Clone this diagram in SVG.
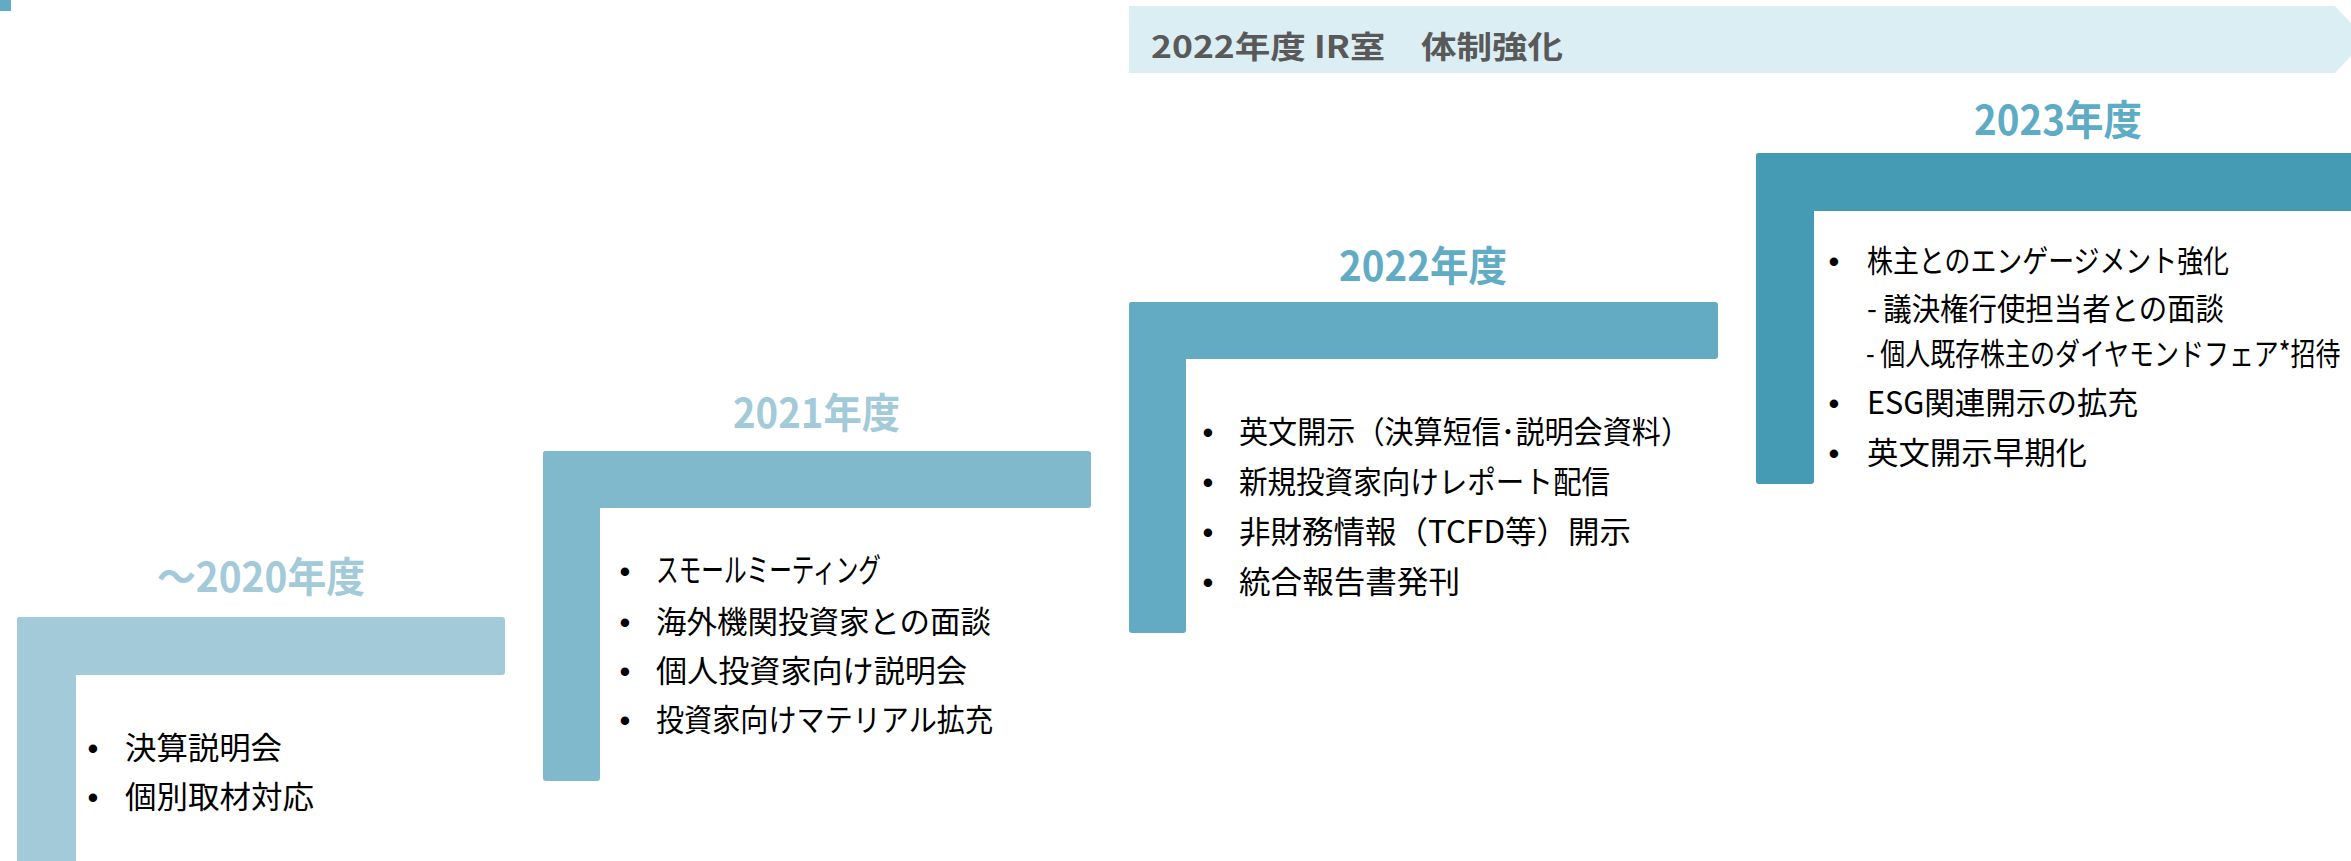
<svg xmlns="http://www.w3.org/2000/svg" width="2351" height="861" viewBox="0 0 2351 861">
<style>
.body{font-family:"Noto Sans CJK JP","Noto Sans",sans-serif;font-size:31px;fill:#000;}
.dot{font-family:"Liberation Sans",Arial,sans-serif;font-size:31px;fill:#000;text-anchor:middle;}
.title{font-family:"Noto Sans CJK JP","Noto Sans",sans-serif;font-size:41px;font-weight:700;}
.banner{font-family:"Noto Sans CJK JP","Noto Sans",sans-serif;font-size:31px;font-weight:700;fill:#595959;}
</style>
<rect x="0" y="0" width="11" height="11" fill="#62abc4"/>
<g id="banner">
<polygon points="1129,6 2335,6 2366,39.5 2335,73 1129,73" fill="#dbeef4"/>
<text class="banner" x="1151" y="58" textLength="412" lengthAdjust="spacingAndGlyphs">2022年度 IR室　体制強化</text>
</g>
<g id="step2020">
<rect x="17" y="617" width="488" height="58" rx="3" fill="#a2cad9"/>
<rect x="17" y="617" width="59" height="260" rx="3" fill="#a2cad9"/>
<text class="title" x="157" y="592" fill="#a2cad9" textLength="208" lengthAdjust="spacingAndGlyphs">～2020年度</text>
<text class="dot" x="93" y="759">•</text><text class="body" x="125" y="759" textLength="157" lengthAdjust="spacingAndGlyphs">決算説明会</text>
<text class="dot" x="93" y="808">•</text><text class="body" x="125" y="808" textLength="189" lengthAdjust="spacingAndGlyphs">個別取材対応</text>
</g>
<g id="step2021">
<rect x="543" y="451" width="548" height="57" rx="3" fill="#81b9cc"/>
<rect x="543" y="451" width="57" height="330" rx="3" fill="#81b9cc"/>
<text class="title" x="733" y="428" fill="#a2cad9" textLength="167" lengthAdjust="spacingAndGlyphs">2021年度</text>
<text class="dot" x="625" y="582">•</text><text class="body" x="656" y="582" style="font-size:33px" textLength="225" lengthAdjust="spacingAndGlyphs">スモールミーティング</text>
<text class="dot" x="625" y="633">•</text><text class="body" x="656" y="633" textLength="335" lengthAdjust="spacingAndGlyphs">海外機関投資家との面談</text>
<text class="dot" x="625" y="682">•</text><text class="body" x="656" y="682" textLength="311" lengthAdjust="spacingAndGlyphs">個人投資家向け説明会</text>
<text class="dot" x="625" y="731">•</text><text class="body" x="656" y="731" textLength="337" lengthAdjust="spacingAndGlyphs">投資家向けマテリアル拡充</text>
</g>
<g id="step2022">
<rect x="1129" y="302" width="589" height="57" rx="3" fill="#62abc3"/>
<rect x="1129" y="302" width="57" height="331" rx="3" fill="#62abc3"/>
<text class="title" x="1339" y="281" fill="#62abc4" textLength="168" lengthAdjust="spacingAndGlyphs">2022年度</text>
<text class="dot" x="1208" y="443">•</text><text class="body" x="1239" y="443" textLength="451" lengthAdjust="spacingAndGlyphs">英文開示（決算短信･説明会資料）</text>
<text class="dot" x="1208" y="493">•</text><text class="body" x="1239" y="493" textLength="371" lengthAdjust="spacingAndGlyphs">新規投資家向けレポート配信</text>
<text class="dot" x="1208" y="543">•</text><text class="body" x="1239" y="543" textLength="392" lengthAdjust="spacingAndGlyphs">非財務情報（TCFD等）開示</text>
<text class="dot" x="1208" y="593">•</text><text class="body" x="1239" y="593" textLength="221" lengthAdjust="spacingAndGlyphs">統合報告書発刊</text>
</g>
<g id="step2023">
<rect x="1756" y="153" width="610" height="58" rx="3" fill="#459bb4"/>
<rect x="1756" y="153" width="58" height="331" rx="3" fill="#459bb4"/>
<text class="title" x="1974" y="135" fill="#5eabc5" textLength="168" lengthAdjust="spacingAndGlyphs">2023年度</text>
<text class="dot" x="1834" y="272">•</text><text class="body" x="1867" y="272" textLength="362" lengthAdjust="spacingAndGlyphs">株主とのエンゲージメント強化</text>
<text class="body" x="1867" y="320" textLength="357" lengthAdjust="spacingAndGlyphs">- 議決権行使担当者との面談</text>
<text class="body" transform="translate(1866,365) scale(0.8,1)" x="0" y="0" textLength="593" lengthAdjust="spacingAndGlyphs">- 個人既存株主のダイヤモンドフェア*招待</text>
<text class="dot" x="1834" y="414">•</text><text class="body" x="1867" y="414" textLength="271" lengthAdjust="spacingAndGlyphs">ESG関連開示の拡充</text>
<text class="dot" x="1834" y="464">•</text><text class="body" x="1867" y="464" textLength="220" lengthAdjust="spacingAndGlyphs">英文開示早期化</text>
</g>
</svg>
